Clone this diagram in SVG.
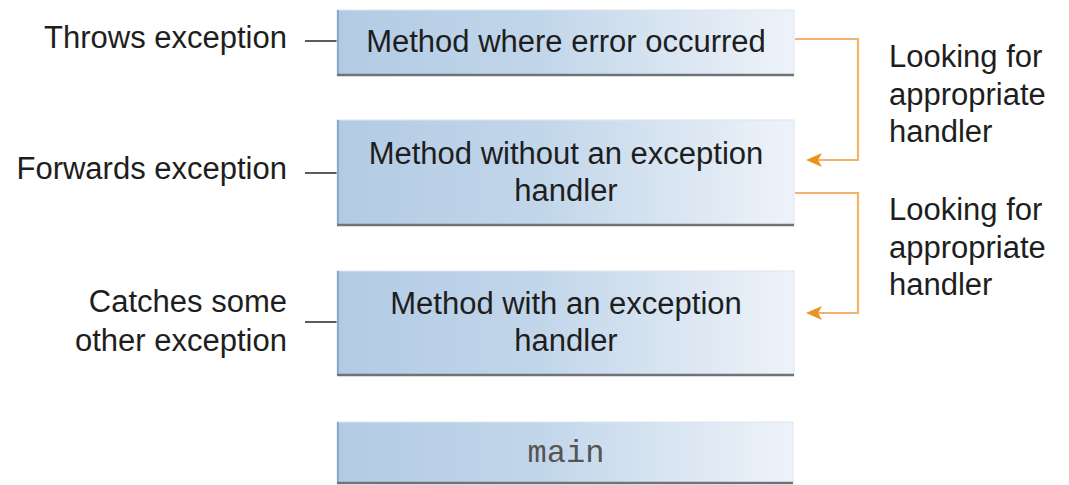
<svg xmlns="http://www.w3.org/2000/svg" width="1069" height="485" viewBox="0 0 1069 485">
<defs>
<linearGradient id="boxg" x1="0" y1="0" x2="1" y2="0">
<stop offset="0" stop-color="#b2cbe4"/>
<stop offset="0.45" stop-color="#c2d6ea"/>
<stop offset="1" stop-color="#eef3f9"/>
</linearGradient>
</defs>
<style>
.box{fill:url(#boxg);stroke:#dbe6f1;stroke-width:1}
.edge{stroke:#8ea9c8;stroke-width:2}
.shadow{stroke:#6f7378;stroke-width:2.5}
.t{font-family:"Liberation Sans",Arial,sans-serif;font-size:31px;fill:#1e1e1e}
.c{text-anchor:middle}
.r{text-anchor:end}
.mono{font-family:"Liberation Mono","Courier New",monospace;font-size:32px;fill:#555;text-anchor:middle}
.lead{stroke:#333;stroke-width:1.6;fill:none}
.conn{stroke:#f3b46a;stroke-width:2.2;fill:none}
.head{fill:#ec9220}
</style>
<g id="connectors">
<path class="conn" d="M795,39 H858 V160 H808"/>
<path class="head" d="M806,160 L822,153 L818,160 L822,167 Z"/>
<path class="conn" d="M795,193 H858 V313 H808"/>
<path class="head" d="M806,313 L822,306 L818,313 L822,320 Z"/>
<line class="lead" x1="305" y1="41" x2="337" y2="41"/>
<line class="lead" x1="305" y1="173" x2="337" y2="173"/>
<line class="lead" x1="305" y1="322" x2="337" y2="322"/>
</g>
<g id="node1">
<rect class="box" x="337" y="10" width="457" height="65"/>
<line class="edge" x1="338" y1="10" x2="338" y2="75"/>
<line class="shadow" x1="337" y1="75" x2="794" y2="75"/>
<text class="t c" x="566" y="52">Method where error occurred</text>
</g>
<g id="node2">
<rect class="box" x="337" y="120" width="457" height="105"/>
<line class="edge" x1="338" y1="120" x2="338" y2="225"/>
<line class="shadow" x1="337" y1="225" x2="794" y2="225"/>
<text class="t c" x="566" y="164">Method without an exception</text>
<text class="t c" x="566" y="201">handler</text>
</g>
<g id="node3">
<rect class="box" x="337" y="271" width="457" height="104"/>
<line class="edge" x1="338" y1="271" x2="338" y2="375"/>
<line class="shadow" x1="337" y1="375" x2="794" y2="375"/>
<text class="t c" x="566" y="314">Method with an exception</text>
<text class="t c" x="566" y="351">handler</text>
</g>
<g id="node4">
<rect class="box" x="337" y="422" width="456" height="61"/>
<line class="edge" x1="338" y1="422" x2="338" y2="483"/>
<line class="shadow" x1="337" y1="483" x2="793" y2="483"/>
<text class="mono" x="566" y="462">main</text>
</g>
<g id="labels">
<text class="t r" x="287" y="48">Throws exception</text>
<text class="t r" x="287" y="179">Forwards exception</text>
<text class="t r" x="287" y="312">Catches some</text>
<text class="t r" x="287" y="351">other exception</text>
<text class="t" x="889" y="67">Looking for</text>
<text class="t" x="889" y="105">appropriate</text>
<text class="t" x="889" y="142">handler</text>
<text class="t" x="889" y="220">Looking for</text>
<text class="t" x="889" y="258">appropriate</text>
<text class="t" x="889" y="295">handler</text>
</g>
</svg>
